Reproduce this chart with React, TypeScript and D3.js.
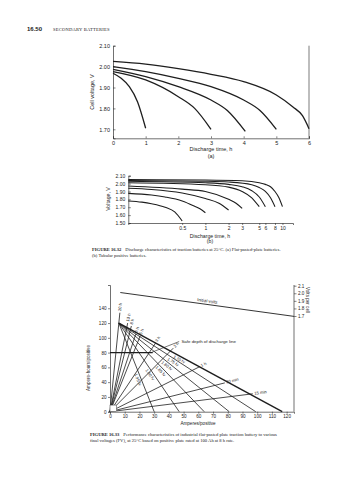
import { useEffect, useRef } from 'react';
import * as d3 from 'd3';

const W = 358, H = 480;
const SANS = '"Liberation Sans", Arial, sans-serif';
const SERIF = '"Liberation Serif", "Times New Roman", serif';
const INK = '#1e1e1e';

// ── Fig 16.32(a): flat-pasted plate, cell voltage vs discharge time ──────────
const A_HOURS = [0, 1, 2, 3, 4, 5, 6];
const A_VOLTS = [1.7, 1.8, 1.9, 2.0, 2.1];
const A_6H: [number, number][] = [[0, 2.025], [1, 2.012], [2, 1.99], [3, 1.963], [4, 1.928], [5, 1.864], [5.5, 1.808], [5.8, 1.765], [6, 1.703]];
const A_5H: [number, number][] = [[0, 2.0], [1, 1.976], [2, 1.944], [3, 1.904], [4, 1.84], [4.5, 1.79], [5, 1.70]];
const A_4H: [number, number][] = [[0, 1.987], [1, 1.952], [2, 1.904], [3, 1.84], [3.5, 1.79], [4.05, 1.69]];
const A_3H: [number, number][] = [[0, 1.976], [1, 1.936], [2, 1.856], [2.5, 1.80], [3, 1.70]];
const A_1H: [number, number][] = [[0, 1.968], [0.25, 1.944], [0.5, 1.904], [0.75, 1.832], [1, 1.705]];

// ── Fig 16.32(b): tubular positive, log time axis ────────────────────────────
const B_HOURS = [0.5, 1, 2, 3, 5, 6, 8, 10];
const B_HOUR_LABELS = ['0.5', '1', '2', '3', '5', '6', '8', '10'];
const B_VOLTS = [1.5, 1.6, 1.7, 1.8, 1.9, 2.0, 2.1];
const B_10H: [number, number][] = [[0.1, 2.05], [1, 2.045], [3, 2.035], [5, 2.01], [6, 1.99], [7, 1.96], [8, 1.90], [9, 1.82], [10, 1.707]];
const B_8H: [number, number][] = [[0.1, 2.04], [1, 2.03], [2, 2.02], [4, 1.985], [5, 1.95], [6, 1.90], [7, 1.82], [8, 1.707]];
const B_6H: [number, number][] = [[0.1, 2.03], [1, 2.01], [2, 1.99], [3, 1.96], [4, 1.91], [5, 1.83], [6, 1.707]];
const B_5H: [number, number][] = [[0.1, 2.01], [1, 1.985], [2, 1.955], [3, 1.90], [4, 1.82], [5, 1.707]];
const B_3H: [number, number][] = [[0.1, 1.97], [0.5, 1.93], [1, 1.90], [2, 1.80], [2.5, 1.75], [3, 1.686]];
const B_2H: [number, number][] = [[0.1, 1.94], [0.2, 1.925], [0.5, 1.88], [1, 1.81], [1.5, 1.75], [2, 1.665]];
const B_1H: [number, number][] = [[0.1, 1.876], [0.2, 1.855], [0.3, 1.83], [0.5, 1.78], [0.7, 1.72], [0.85, 1.68], [1, 1.63]];
const B_05H: [number, number][] = [[0.1, 1.78], [0.15, 1.765], [0.2, 1.745], [0.3, 1.70], [0.4, 1.64], [0.5, 1.525]];

// ── Fig 16.33: Ah/positive vs A/positive ─────────────────────────────────────
const C_AMPS = [0, 10, 20, 30, 40, 50, 60, 70, 80, 90, 100, 110, 120];
const C_AH = [0, 20, 40, 60, 80, 100, 120, 140];
const C_VPC = [1.7, 1.8, 1.9, 2.0, 2.1];
const C_VPC_LABELS = ['1.7', '1.8', '1.9', '2.0', '2.1'];
const INITIAL_VOLTS: [number, number][] = [[7, 2.01], [125, 1.695]];
const RATE_LABELS = ['20 h', '10 h', '8 h', '6 h', '5 h', '3 h', '2 h', '1 h', '30 min', '15 min'];
const RATE_HOURS = [20, 10, 8, 6, 5, 3, 2, 1, 0.5, 0.25];
const RATE_END_AMPS = [6.7, 12, 14.5, 17.5, 20.5, 31, 43, 61, 78, 97];
const FV_LABELS = ['1.70 fv', '1.75 fv', '1.80 fv', '1.85 fv', '1.90 fv', '1.95 fv'];
const FV_END_AMPS = [117, 99, 81, 64, 47, 30];
const FV_LABEL_AMPS = [48, 44, 40, 36, 29, 21];
const FV_APEX: [number, number] = [6, 120];
const SAFE_DEPTH_AH = 80;
const SAFE_DEPTH_END_AMPS = 29;

type Sel = d3.Selection<any, unknown, null, undefined>;

function styleAxis(ax: Sel, fs: number) {
  ax.attr('font-family', SANS).attr('font-size', fs);
  ax.select('.domain').attr('stroke', '#333').attr('stroke-width', 0.7);
  ax.selectAll('line').attr('stroke', '#333').attr('stroke-width', 0.6);
  ax.selectAll('text').attr('fill', '#222');
}

function txt(g: Sel, x: number, y: number, s: string, fs: number, opts: any = {}) {
  const t = g.append('text').attr('x', x).attr('y', y).attr('font-size', fs)
    .attr('font-family', opts.family || SANS).attr('fill', opts.fill || '#222')
    .attr('text-anchor', opts.anchor || 'start').text(s);
  if (opts.weight) t.attr('font-weight', opts.weight);
  if (opts.rotate !== undefined) t.attr('transform', `rotate(${opts.rotate},${x},${y})`);
  if (opts.baseline) t.attr('dominant-baseline', opts.baseline);
  return t;
}

function drawHeader(svg: Sel) {
  txt(svg, 27, 31, '16.50', 6, { weight: 700 });
  txt(svg, 53, 31, 'SECONDARY BATTERIES', 4.6, { family: SERIF }).attr('letter-spacing', 0.2);
}

function drawA(svg: Sel) {
  const x = d3.scaleLinear().domain([0, 6]).range([113, 309]);
  const y = d3.scaleLinear().domain([1.657, 2.1]).range([138.3, 45.7]);
  const g = svg.append('g');

  g.append('g').attr('transform', `translate(0,${y(1.657)})`)
    .call(d3.axisBottom(x).tickValues(A_HOURS).tickSize(-2).tickPadding(3).tickFormat(d3.format('d')))
    .call(ax => styleAxis(ax, 5.5));
  g.append('g').attr('transform', `translate(${x(0)},0)`)
    .call(d3.axisLeft(y).tickValues(A_VOLTS).tickSize(-2.5).tickPadding(3).tickFormat(d3.format('.2f')))
    .call(ax => styleAxis(ax, 5.5));
  g.append('line').attr('x1', x(6)).attr('x2', x(6)).attr('y1', y(2.1)).attr('y2', y(1.657))
    .attr('stroke', '#444').attr('stroke-width', 0.7);

  const line = d3.line<[number, number]>().x(d => x(d[0])).y(d => y(d[1])).curve(d3.curveMonotoneX);
  [A_6H, A_5H, A_4H, A_3H, A_1H].forEach(s => {
    g.append('path').attr('d', line(s)).attr('fill', 'none').attr('stroke', INK).attr('stroke-width', 1.3);
  });

  txt(g, 94, 92, 'Cell voltage, V', 5.5, { anchor: 'middle', rotate: -90 });
  txt(g, 211, 151, 'Discharge time, h', 5.5, { anchor: 'middle' });
  txt(g, 211, 157.5, '(a)', 5.5, { anchor: 'middle' });
}

function drawB(svg: Sel) {
  const x = d3.scaleLog().domain([0.1, 13.7]).range([128.3, 293]);
  const y = d3.scaleLinear().domain([1.5, 2.1]).range([223, 175.7]);
  const g = svg.append('g');

  g.append('g').attr('transform', `translate(0,${y(1.5)})`)
    .call(d3.axisBottom(x).tickValues(B_HOURS).tickSize(2).tickPadding(1.5).tickFormat((d, i) => B_HOUR_LABELS[i]))
    .call(ax => styleAxis(ax, 5));
  g.append('g').attr('transform', `translate(${x(0.1)},0)`)
    .call(d3.axisLeft(y).tickValues(B_VOLTS).tickSize(-2.5).tickPadding(3).tickFormat(d3.format('.2f')))
    .call(ax => styleAxis(ax, 5));

  const line = d3.line<[number, number]>().x(d => x(d[0])).y(d => y(d[1])).curve(d3.curveMonotoneX);
  [B_10H, B_8H, B_6H, B_5H, B_3H, B_2H, B_1H, B_05H].forEach(s => {
    g.append('path').attr('d', line(s)).attr('fill', 'none').attr('stroke', INK).attr('stroke-width', 1.1);
  });

  txt(g, 110, 199, 'Voltage, V', 5.2, { anchor: 'middle', rotate: -90 });
  txt(g, 210, 237.5, 'Discharge time, h', 5.2, { anchor: 'middle' });
  txt(g, 210, 243, '(b)', 5.2, { anchor: 'middle' });

  const cap = svg.append('text').attr('x', 92).attr('y', 251).attr('font-family', SERIF).attr('font-size', 4.6).attr('fill', '#222');
  cap.append('tspan').attr('font-weight', 700).text('FIGURE 16.32');
  cap.append('tspan').attr('dx', 4).text('Discharge characteristics of traction batteries at 25°C. (a) Flat-pasted-plate batteries.');
  txt(svg, 92, 256.5, '(b) Tubular positive batteries.', 4.6, { family: SERIF });
}

function drawC(svg: Sel) {
  const x = d3.scaleLinear().domain([0, 125]).range([110, 294]);
  const y = d3.scaleLinear().domain([0, 171.5]).range([411.7, 285]);
  const v = d3.scaleLinear().domain([1.7, 2.1]).range([316, 285.7]);
  const g = svg.append('g');

  g.append('g').attr('transform', `translate(0,${y(0)})`)
    .call(d3.axisBottom(x).tickValues(C_AMPS).tickSize(2).tickPadding(1).tickFormat(d3.format('d')))
    .call(ax => styleAxis(ax, 4.6));
  g.append('g').attr('transform', `translate(${x(0)},0)`)
    .call(d3.axisLeft(y).tickValues(C_AH).tickSize(2).tickPadding(1.5).tickFormat(d3.format('d')))
    .call(ax => styleAxis(ax, 4.6));
  g.append('line').attr('x1', x(125)).attr('x2', x(125)).attr('y1', y(171.5)).attr('y2', y(0))
    .attr('stroke', '#333').attr('stroke-width', 0.7);
  g.append('g').attr('transform', `translate(${x(125)},0)`)
    .call(d3.axisRight(v).tickValues(C_VPC).tickSize(2.5).tickPadding(1.5).tickFormat((d, i) => C_VPC_LABELS[i]))
    .call(ax => styleAxis(ax, 4.6))
    .call(ax => ax.select('.domain').remove());

  const seg = (x1: number, y1: number, x2: number, y2: number, w: number) =>
    g.append('line').attr('x1', x1).attr('y1', y1).attr('x2', x2).attr('y2', y2)
      .attr('stroke', INK).attr('stroke-width', w);

  // initial volts
  const iv0 = INITIAL_VOLTS[0], iv1 = INITIAL_VOLTS[1];
  seg(x(iv0[0]), v(iv0[1]), x(iv1[0]), v(iv1[1]), 0.9);
  const ivAng = Math.atan2(v(iv1[1]) - v(iv0[1]), x(iv1[0]) - x(iv0[0])) * 180 / Math.PI;
  const ivA = 66, ivV = iv0[1] + (iv1[1] - iv0[1]) * (ivA - iv0[0]) / (iv1[0] - iv0[0]);
  txt(g, x(ivA), v(ivV) - 2, 'Initial volts', 4.4, { anchor: 'middle', rotate: ivAng });

  // final-voltage lines from the apex
  FV_END_AMPS.forEach((end, i) => {
    const x1 = x(FV_APEX[0]), y1 = y(FV_APEX[1]), x2 = x(end), y2 = y(0);
    seg(x1, y1, x2, y2, i === 0 ? 1.4 : 0.8);
    const ang = Math.atan2(y2 - y1, x2 - x1);
    const la = FV_LABEL_AMPS[i];
    const lAh = FV_APEX[1] * (end - la) / (end - FV_APEX[0]);
    const px = x(la) - Math.sin(ang) * 3.5, py = y(lAh) + Math.cos(ang) * 3.5;
    txt(g, px, py, FV_LABELS[i], 4.2, { anchor: 'middle', rotate: ang * 180 / Math.PI, baseline: 'middle' });
  });

  // discharge-rate rays from the origin
  RATE_HOURS.forEach((h, i) => {
    const endA = RATE_END_AMPS[i];
    const x1 = x(0), y1 = y(0), x2 = x(endA), y2 = y(h * endA);
    seg(x1, y1, x2, y2, 0.8);
    const ang = Math.atan2(y2 - y1, x2 - x1);
    txt(g, x2 + Math.cos(ang) * 1.5, y2 + Math.sin(ang) * 1.5, RATE_LABELS[i], 4.2,
      { anchor: 'start', rotate: ang * 180 / Math.PI, baseline: 'middle' });
  });

  // safe depth of discharge
  seg(x(0), y(SAFE_DEPTH_AH), x(SAFE_DEPTH_END_AMPS), y(SAFE_DEPTH_AH), 1.4);
  seg(x(SAFE_DEPTH_END_AMPS - 0.5), y(SAFE_DEPTH_AH + 0.5), x(47), y(95), 0.6);
  txt(g, x(48.5), y(95) + 1.5, 'Safe depth of discharge line', 4.4);

  // origin box
  g.append('rect').attr('x', x(0)).attr('y', y(9)).attr('width', x(4.5) - x(0)).attr('height', y(0) - y(9))
    .attr('fill', '#fff').attr('stroke', '#333').attr('stroke-width', 0.5);

  txt(g, 90, 368, 'Ampere-hours/positive', 4.6, { anchor: 'middle', rotate: -90 });
  txt(g, 198, 425, 'Amperes/positive', 4.6, { anchor: 'middle' });
  txt(g, 306, 300, 'Volts per cell', 4.6, { anchor: 'middle', rotate: 90 });

  const cap = svg.append('text').attr('x', 90).attr('y', 436).attr('font-family', SERIF).attr('font-size', 4.6).attr('fill', '#222');
  cap.append('tspan').attr('font-weight', 700).text('FIGURE 16.33');
  cap.append('tspan').attr('dx', 4).text('Performance characteristics of industrial flat-pasted plate traction battery to various');
  txt(svg, 90, 441.5, 'final voltages (FV), at 25°C based on positive plate rated at 100 Ah at 8 h rate.', 4.6, { family: SERIF });
}

export default function App() {
  const ref = useRef<SVGSVGElement>(null);
  useEffect(() => {
    const svg = d3.select(ref.current) as Sel;
    svg.selectAll('*').remove();
    drawHeader(svg);
    drawA(svg);
    drawB(svg);
    drawC(svg);
  }, []);
  return (
    <svg ref={ref} width={W} height={H} viewBox={`0 0 ${W} ${H}`}
      style={{ position: 'absolute', left: 0, top: 0, background: '#fff', display: 'block' }} />
  );
}
